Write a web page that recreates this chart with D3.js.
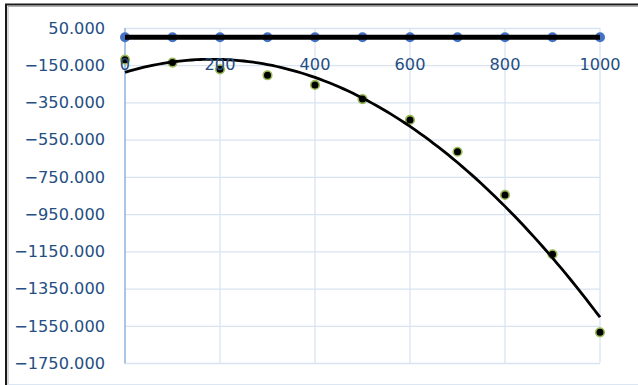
<!DOCTYPE html>
<html><head><meta charset="utf-8">
<script src="https://cdn.jsdelivr.net/npm/d3@7"></script>
<style>body{margin:0;background:#fff}svg{display:block}</style>
</head><body>
<script>
const xValues = [0,100,200,300,400,500,600,700,800,900,1000];
const blueValues = [0,0,0,0,0,0,0,0,0,0,0];
const blackValues = [-120,-136,-172,-204,-256,-332,-444,-615,-847,-1166,-1585];
const yTicks = [50,-150,-350,-550,-750,-950,-1150,-1350,-1550,-1750];
const xTicks = [0,200,400,600,800,1000];

const W=638,H=385;
const svg=d3.select("body").append("svg").attr("width",W).attr("height",H);
const x=d3.scaleLinear().domain([0,1000]).range([125,600]);
const y=d3.scaleLinear().domain([-1750,50]).range([363,28]);

// frame
svg.append("path").attr("d","M6,385V4.5H638").attr("fill","none").attr("stroke","#1a1a1a").attr("stroke-width",2);
svg.append("path").attr("d","M8,385V6.5H638").attr("fill","none").attr("stroke","#b0b0b0").attr("stroke-width",1);
svg.append("line").attr("x1",8).attr("x2",638).attr("y1",384.5).attr("y2",384.5).attr("stroke","#dce6f2");

// gridlines
const grid="#d9e4f2";
svg.append("g").selectAll("line").data(yTicks).join("line")
  .attr("x1",x(0)).attr("x2",x(1000)).attr("y1",d=>y(d)+0.5).attr("y2",d=>y(d)+0.5)
  .attr("stroke",grid).attr("stroke-width",1.3);
svg.append("g").selectAll("line").data(xTicks.slice(1)).join("line")
  .attr("x1",d=>x(d)).attr("x2",d=>x(d)).attr("y1",y(50)).attr("y2",y(-1750))
  .attr("stroke",grid).attr("stroke-width",1.3);
// vertical axis line
svg.append("line").attr("x1",x(0)).attr("x2",x(0)).attr("y1",y(50)).attr("y2",y(-1750)+0.5)
  .attr("stroke","#8fb2e0").attr("stroke-width",1.5);

const font="DejaVu Sans", fs=16.2, col="#254f82";
// y labels
svg.append("g").selectAll("text").data(yTicks).join("text")
  .attr("x",105).attr("y",d=>y(d)).attr("dy","0.36em").attr("text-anchor","end")
  .attr("font-family",font).attr("font-size",fs).attr("fill",col)
  .text(d=>d3.format(".3f")(d));

// blue series markers
svg.append("g").selectAll("circle").data(xValues).join("circle")
  .attr("cx",d=>x(d)).attr("cy",(d,i)=>y(blueValues[i])).attr("r",5).attr("fill","#4472c4");
// linear trend (thick black) of blue
svg.append("line").attr("x1",x(0)).attr("x2",x(1000)).attr("y1",y(0)).attr("y2",y(0))
  .attr("stroke","#000").attr("stroke-width",5);

// black series markers
svg.append("g").selectAll("circle").data(xValues).join("circle")
  .attr("cx",d=>x(d)).attr("cy",(d,i)=>y(blackValues[i])).attr("r",4.3)
  .attr("fill","#000").attr("stroke","#9bbb59").attr("stroke-width",1.6);

// quadratic least squares fit
function fit2(xs,ys){
  let S=[0,0,0,0,0],T=[0,0,0];
  xs.forEach((xv,i)=>{const u=xv/1000;for(let k=0;k<5;k++)S[k]+=u**k;for(let k=0;k<3;k++)T[k]+=ys[i]*u**k;});
  const M=[[S[0],S[1],S[2],T[0]],[S[1],S[2],S[3],T[1]],[S[2],S[3],S[4],T[2]]];
  for(let i=0;i<3;i++){for(let j=i+1;j<3;j++){const f=M[j][i]/M[i][i];for(let k=i;k<4;k++)M[j][k]-=f*M[i][k];}}
  const c=[0,0,0];
  for(let i=2;i>=0;i--){let s=M[i][3];for(let k=i+1;k<3;k++)s-=M[i][k]*c[k];c[i]=s/M[i][i];}
  return xv=>{const u=xv/1000;return c[0]+c[1]*u+c[2]*u*u;};
}
const f=fit2(xValues,blackValues);
const pts=d3.range(0,1001,10);
svg.append("path").datum(pts).attr("fill","none").attr("stroke","#000").attr("stroke-width",2.8)
  .attr("d",d3.line().x(d=>x(d)).y(d=>y(f(d))).curve(d3.curveBasis));

// x labels
svg.append("g").selectAll("text").data(xTicks).join("text")
  .attr("x",d=>x(d)).attr("y",64).attr("dy","0.36em").attr("text-anchor","middle")
  .attr("font-family",font).attr("font-size",fs).attr("fill",col)
  .text(d=>d);
</script>
</body></html>
